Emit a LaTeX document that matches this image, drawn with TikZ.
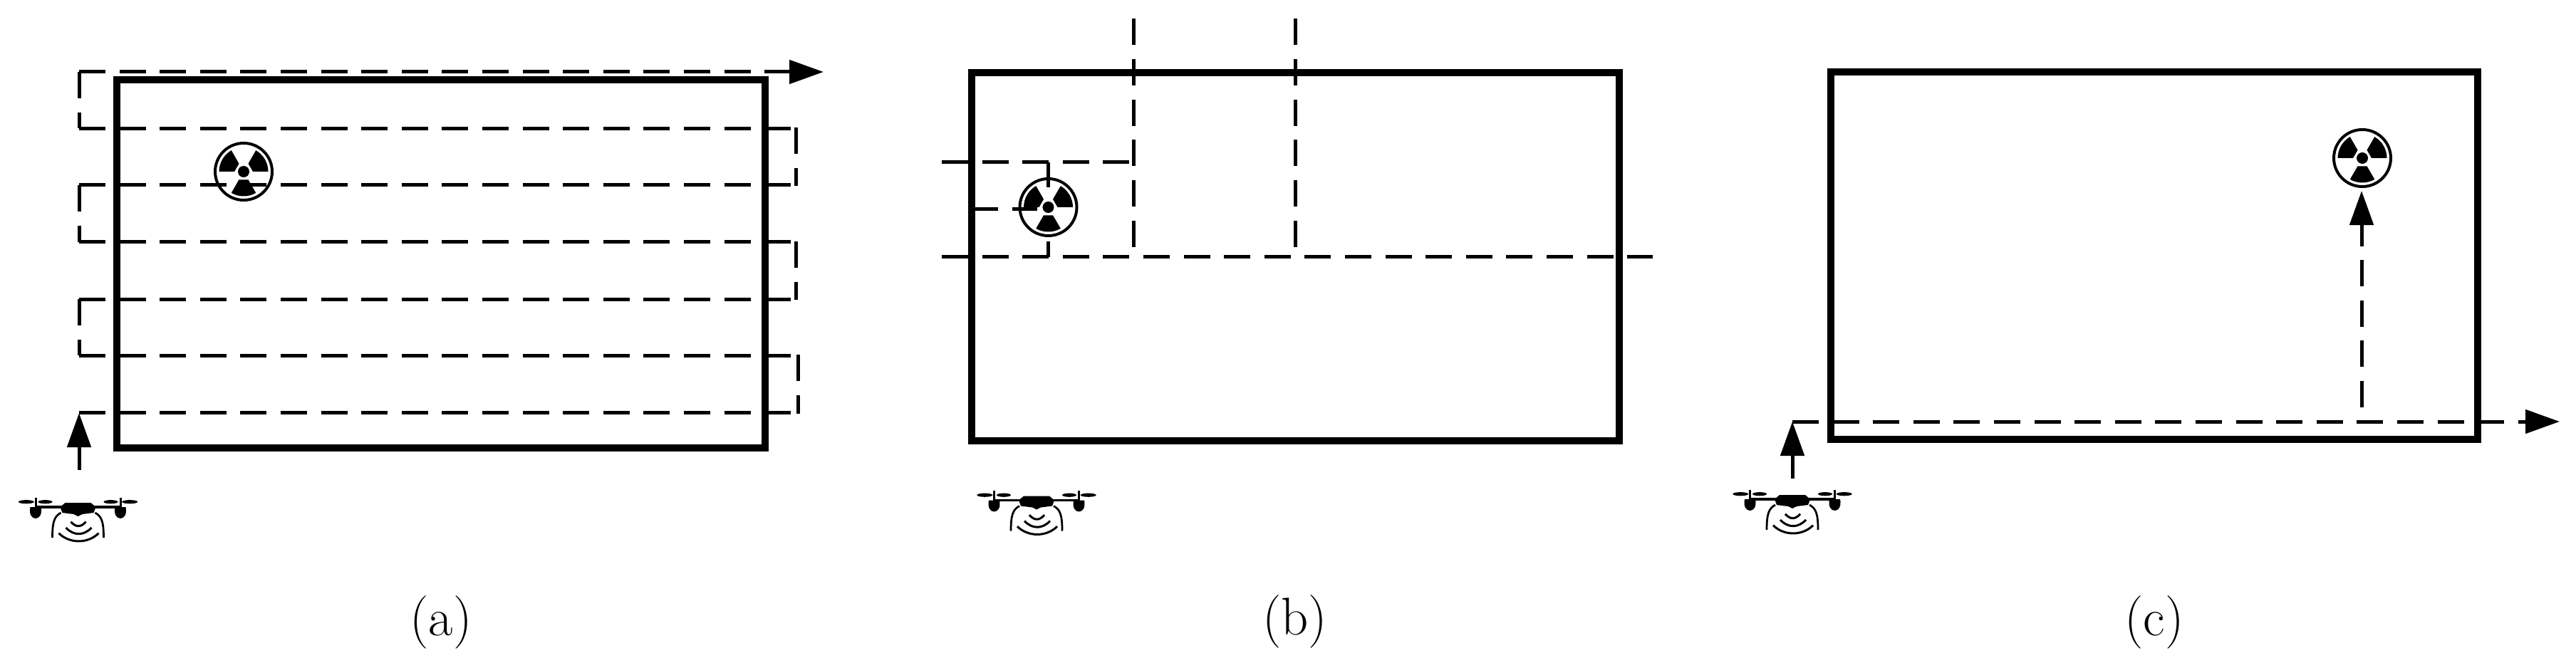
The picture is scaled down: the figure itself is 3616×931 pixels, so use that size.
\documentclass[tikz,border=0pt]{standalone}
\usetikzlibrary{arrows.meta}
\tikzset{
  px/.style={x=0.2mm,y=-0.2mm},
  field/.style={line width=2mm,line join=miter,draw=black},
  track/.style={line width=1mm,draw=black,dash pattern=on 7.4mm off 3.92mm},
  leg/.style={line width=1mm,draw=black},
  tip/.style={-{Triangle[length=9.6mm,width=6.6mm]}},
  caption/.style={font=\fontsize{42.5}{46}\selectfont,inner sep=0pt,text=black},
  radiation/.pic={
    \draw[line width=0.8mm,draw=black] (0,0) circle[radius=40];
    \fill[black] (0,0) circle[radius=8];
    \foreach \a in {60,180,300}{
      \fill[black] (\a:13) -- plot[domain=\a:\a+60,samples=9] (\x:34.5) -- (\a+60:13) -- cycle;
    }
  },
  drone/.pic={
    \foreach \s in {-1,1}{
      \begin{scope}[xscale=\s]
        \draw[line width=0.6mm] (59.5,-13.5) -- (59.5,0);
        \fill[black] (72.7,-7.3) ellipse[x radius=11,y radius=2.6];
        \fill[black] (46,-7.3) ellipse[x radius=10,y radius=2.6];
        \fill[black] (52,0) .. controls (50,10) and (54,16) .. (59.5,16) .. controls (65,16) and (69,10) .. (67,0) -- cycle;
        \draw[line width=0.55mm] (24,8) .. controls (33,13) and (36,20) .. (36,43);
      \end{scope}
    }
    \draw[line width=0.7mm] (-59.5,0) -- (59.5,0);
    \fill[black] (-18,-6) -- (18,-6) -- (25,0) -- (22,8) -- (6,10) -- (0,13) -- (-6,10) -- (-22,8) -- (-25,0) -- cycle;
    \draw[line width=0.6mm] (-10,20.7) .. controls (-3,28.7) and (4,28.7) .. (11,20.7);
    \draw[line width=0.6mm] (-17,29) .. controls (-6,40.6) and (8,40.6) .. (19,29);
    \draw[line width=0.6mm] (-27,36.7) .. controls (-12,51.7) and (14,51.7) .. (29,36.7);
  }
}
\begin{document}
\begin{tikzpicture}[px]
\useasboundingbox (0,0) rectangle (3616,931);

% ---------- panel (a)
\foreach \n/\y in {1/180.5,2/260,3/340,4/420,5/499,6/579}{
  \draw[track] (111,\y) -- (1110,\y);
}
\coordinate (aTop) at (111,101);
\coordinate (aEnd) at (1156,101);
\draw[track,tip] (aTop) -- (aEnd);
\foreach \x/\ya/\yb in {111/101/180.5,111/260/340,111/420/499,1117/179/261,1117/339/421,1120/498/581}{
  \draw[track] (\x,\ya) -- (\x,\yb);
}
\draw[field] (164,112.5) rectangle (1074,629);
\pic at (342,241) {radiation};
\pic at (109.5,712) {drone};
\coordinate (aFrom) at (111,660);
\coordinate (aTo) at (111,580);
\draw[leg,tip] (aFrom) -- (aTo);
\node[caption] (capa) at (619,874) {(a)};

% ---------- panel (b)
\draw[track] (1322,361) -- (2320,361);
\draw[track] (1322,228) -- (1591,228);
\draw[track] (1364,294) -- (1456,294);
\draw[track] (1591,26.5) -- (1591,347);
\draw[track] (1818,26.5) -- (1818,347);
\draw[leg] (1471,228) -- (1471,263);
\draw[leg] (1471,339) -- (1471,361);
\draw[field] (1364,102) rectangle (2273,618.5);
\pic at (1471.5,291) {radiation};
\pic at (1455,702.5) {drone};
\node[caption] (capb) at (1817.5,873) {(b)};

% ---------- panel (c)
\coordinate (cCorner) at (2516,592);
\coordinate (cEnd) at (3593,592);
\draw[track,tip] (cCorner) -- (cEnd);
\coordinate (cUp) at (3315,572);
\coordinate (cSrc) at (3315,268);
\draw[track,tip] (cUp) -- (cSrc);
\draw[field] (2570,100.7) rectangle (3478,617);
\pic at (3316,222) {radiation};
\pic at (2516,701) {drone};
\coordinate (cFrom) at (2516,672);
\draw[leg,tip] (cFrom) -- (cCorner);
\node[caption] (capc) at (3024,874) {(c)};
\end{tikzpicture}
\end{document}
